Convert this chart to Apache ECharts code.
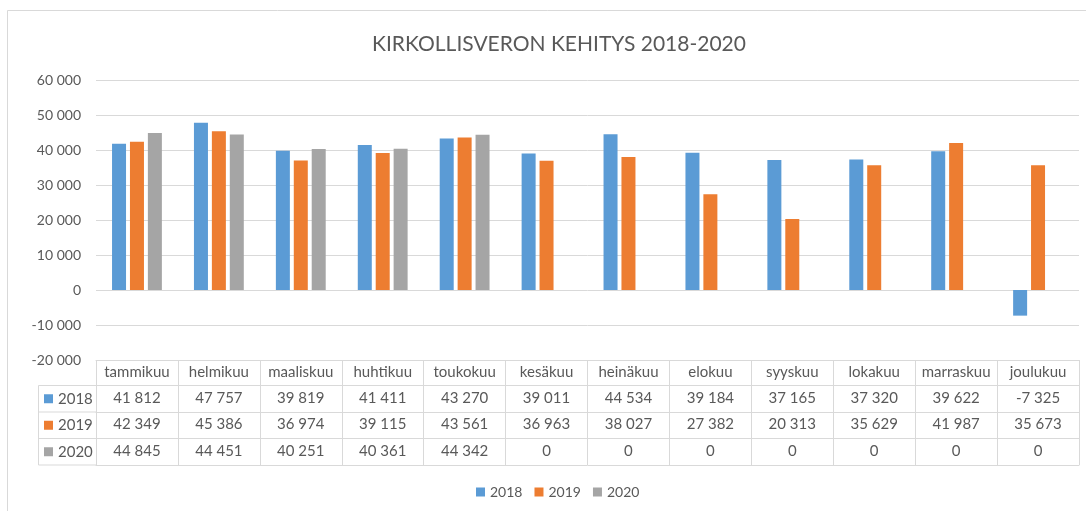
<!DOCTYPE html>
<html>
<head>
<meta charset="utf-8">
<script src="https://cdn.jsdelivr.net/npm/echarts@6/dist/echarts.min.js"></script>
<style>
html,body{margin:0;padding:0;background:#fff;}
#c{width:1086px;height:511px;}
</style>
</head>
<body>
<div id="c"></div>
<script>
const titleText = 'KIRKOLLISVERON KEHITYS 2018-2020';
const months = ['tammikuu','helmikuu','maaliskuu','huhtikuu','toukokuu','kesäkuu','heinäkuu','elokuu','syyskuu','lokakuu','marraskuu','joulukuu'];
const seriesNames = ['2018','2019','2020'];
const v2018 = [41812,47757,39819,41411,43270,39011,44534,39184,37165,37320,39622,-7325];
const v2019 = [42349,45386,36974,39115,43561,36963,38027,27382,20313,35629,41987,35673];
const v2020 = [44845,44451,40251,40361,44342,0,0,0,0,0,0,0];
const colors = ['#5B9BD5','#ED7D31','#A5A5A5'];
const yMin = -20000, yMax = 60000, yStep = 10000;

const FONT = 'Lato';
const TXT = '#595959';
const LINE = '#d9d9d9';

function fmt(n){
  const s = String(Math.abs(n)).replace(/\B(?=(\d{3})+(?!\d))/g,' ');
  return (n < 0 ? '-' : '') + s;
}

const allVals = [v2018, v2019, v2020];

// grid geometry
const G = {left:96, right:7, top:80, bottom:151};
const tableTop = 511 - G.bottom;
const rowH = [25.5, 26.5, 26.5, 26.5];
const rowLines = [tableTop];
rowH.forEach(h => rowLines.push(rowLines[rowLines.length-1] + h));

const xAxes = [{
  type:'category', data: months, position:'bottom', gridIndex:0,
  axisLine:{show:true, onZero:false, lineStyle:{color:LINE, width:1}},
  axisTick:{show:true, interval:0, length: rowLines[4]-rowLines[0], lineStyle:{color:LINE}},
  axisLabel:{color:TXT, fontFamily:FONT, fontSize:15, margin:5, interval:0}
}];
for (let i = 0; i < 3; i++) {
  xAxes.push({
    type:'category', data: months, position:'bottom', gridIndex:0,
    offset: rowLines[i+1]-tableTop,
    axisLine:{show:true, onZero:false, lineStyle:{color:LINE, width:1}},
    axisTick:{show:false},
    axisLabel:{color:TXT, fontFamily:FONT, fontSize:15, margin:5, interval:0,
      formatter:(val, idx) => fmt(allVals[i][idx])}
  });
}
xAxes.push({
  type:'category', data: months, position:'bottom', gridIndex:0,
  offset: rowLines[4]-tableTop,
  axisLine:{show:true, onZero:false, lineStyle:{color:LINE, width:1}},
  axisTick:{show:false}, axisLabel:{show:false}
});

const graphics = [
  {type:'rect', shape:{x:7.5, y:10.5, width:1100, height:600}, style:{fill:'none', stroke:LINE, lineWidth:1}, silent:true}
];
const hdrLeft = 38.5;
for (let i = 1; i <= 4; i++) {
  graphics.push({type:'line', shape:{x1:hdrLeft, y1:rowLines[i], x2:G.left, y2:rowLines[i]}, style:{stroke:LINE, lineWidth:1}, silent:true});
}
graphics.push({type:'line', shape:{x1:hdrLeft, y1:rowLines[1], x2:hdrLeft, y2:rowLines[4]}, style:{stroke:LINE, lineWidth:1}, silent:true});
for (let i = 0; i < 3; i++) {
  const cy = (rowLines[i+1] + rowLines[i+2]) / 2;
  graphics.push({type:'rect', shape:{x:44, y:cy-4.5, width:9, height:9}, style:{fill:colors[i]}, silent:true});
  graphics.push({type:'text', x:58, y:cy, style:{text:seriesNames[i], fill:TXT, font:'15px ' + FONT, verticalAlign:'middle', align:'left'}, silent:true});
}

const option = {
  animation:false,
  backgroundColor:'#fff',
  title:{text:titleText, left:554, top:29, textAlign:'center',
    textStyle:{color:TXT, fontFamily:FONT, fontSize:21, fontWeight:'normal'}},
  legend:{data:seriesNames, left:471, top:480, icon:'rect', itemWidth:9, itemHeight:9, itemGap:12,
    textStyle:{color:TXT, fontFamily:FONT, fontSize:14}},
  grid:{left:G.left, right:G.right, top:G.top, bottom:G.bottom, containLabel:false},
  xAxis: xAxes,
  yAxis:{type:'value', min:yMin, max:yMax, interval:yStep,
    axisLine:{show:false}, axisTick:{show:false},
    splitLine:{lineStyle:{color:LINE, width:1}},
    axisLabel:{color:TXT, fontFamily:FONT, fontSize:14, margin:15, formatter:v => fmt(v)}},
  series: allVals.map((d, i) => ({
    name:seriesNames[i], type:'bar', data:d, xAxisIndex:0,
    barWidth:14, barGap:'28%',
    itemStyle:{color:colors[i]}
  })),
  graphic: graphics
};

const chart = echarts.init(document.getElementById('c'), null, {renderer:'canvas'});
chart.setOption(option);
</script>
</body>
</html>
